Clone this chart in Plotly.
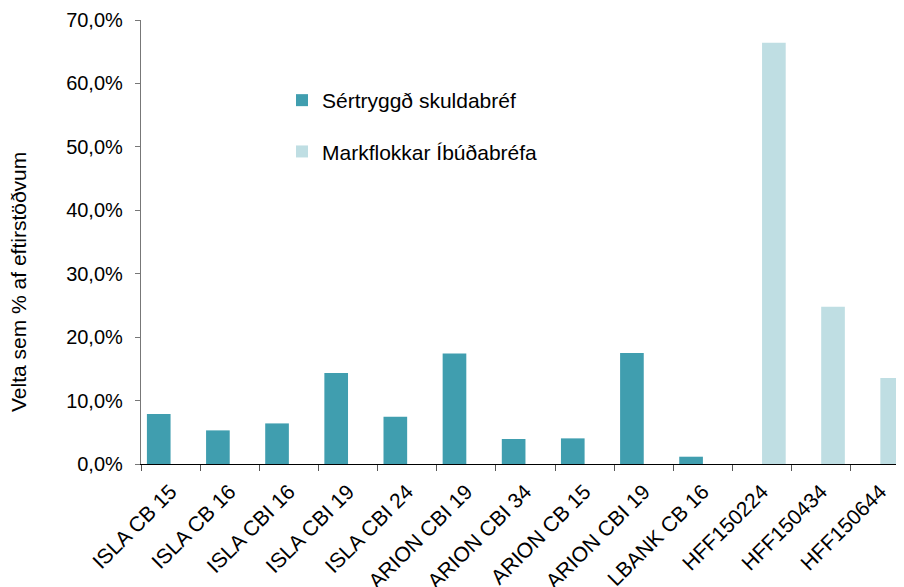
import plotly.graph_objects as go

categories = ["ISLA CB 15", "ISLA CB 16", "ISLA CBI 16", "ISLA CBI 19", "ISLA CBI 24",
              "ARION CBI 19", "ARION CBI 34", "ARION CB 15", "ARION CBI 19", "LBANK CB 16",
              "HFF150224", "HFF150434", "HFF150644"]
sertryggd = [0.079, 0.053, 0.064, 0.1435, 0.0746, 0.1744, 0.0394, 0.0404, 0.175, 0.0115,
             None, None, None]
markflokkar = [None] * 10 + [0.664, 0.248, 0.1356]
series_names = ["Sértryggð skuldabréf", "Markflokkar Íbúðabréfa"]
y_tick_vals = [0, 0.1, 0.2, 0.3, 0.4, 0.5, 0.6, 0.7]

xpos = list(range(len(categories)))
FONT = "Liberation Sans, Arial, sans-serif"

fig = go.Figure()
fig.add_trace(go.Bar(x=xpos, y=sertryggd, name=series_names[0], legendgroup="a",
                     marker=dict(color="#409EAF", line=dict(width=0))))
fig.add_trace(go.Bar(x=xpos, y=markflokkar, name=series_names[1], legendgroup="b",
                     marker=dict(color="#BFDEE3", line=dict(width=0))))

# page body has an 8px margin; figure coordinates are screen minus 8
OFF = 8
W, H = 904 - OFF, 587 - OFF
L, T = 141 - OFF, 20 - OFF
BOT = 464 - OFF
B = H - BOT
pw, ph = W - L, BOT - T

fig.update_layout(
    width=W, height=H,
    margin=dict(l=L, r=0, t=T, b=B, pad=0, autoexpand=False),
    paper_bgcolor="white", plot_bgcolor="white",
    barmode="group", bargap=0.2, bargroupgap=0,
    separators=",.",
    font=dict(family=FONT, size=20, color="black"),
    legend=dict(x=(282 - 141) / pw, y=(464 - 80) / ph, xanchor="left", yanchor="top",
                font=dict(size=21), tracegroupgap=21, itemwidth=30,
                bgcolor="rgba(0,0,0,0)"),
    annotations=[dict(text="Velta sem % af eftirstöðvum",
                      x=(18 - 141) / pw, y=(464 - 282) / ph,
                      xref="paper", yref="paper", showarrow=False, textangle=-90,
                      font=dict(size=21), xanchor="center", yanchor="middle")],
)

fig.update_xaxes(
    range=[-0.5, 12.4], automargin=False,
    tickmode="array", tickvals=xpos, ticktext=categories,
    tickangle=-45, ticks="", showgrid=False, zeroline=False,
    showline=True, linecolor="black", linewidth=1.3,
    tickfont=dict(size=21), ticklabelstandoff=6,
    minor=dict(tickmode="array", tickvals=[i - 0.5 for i in range(len(categories) + 1)],
               ticks="outside", ticklen=6, tickcolor="#555555", tickwidth=1.3, showgrid=False),
)
fig.update_yaxes(
    range=[0, 0.7], automargin=False, tickmode="array", tickvals=y_tick_vals, tickformat=".1%",
    ticks="outside", ticklen=5, tickcolor="#777777", tickwidth=1.3,
    showline=True, linecolor="#777777", linewidth=1.3, ticklabelstandoff=8,
    showgrid=False, zeroline=False, tickfont=dict(size=20),
)

fig.write_html("out.html")
